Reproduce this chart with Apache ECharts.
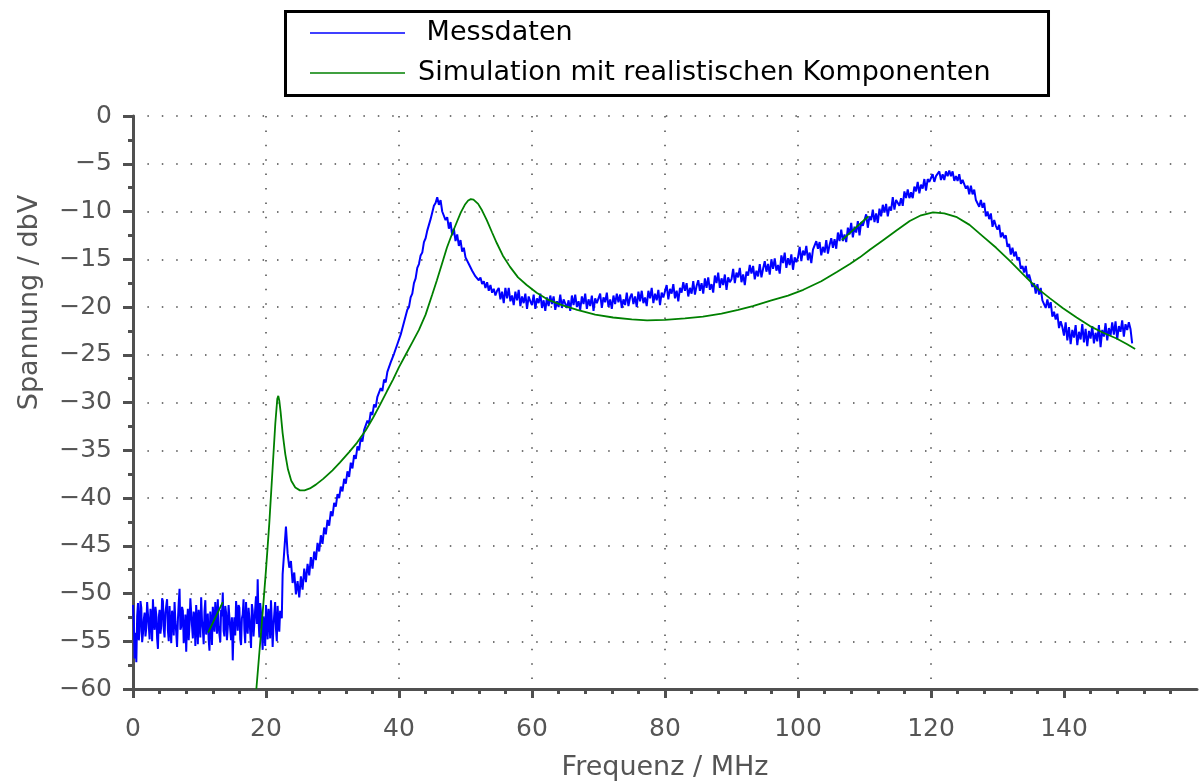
<!DOCTYPE html>
<html>
<head>
<meta charset="utf-8">
<title>Messdaten / Simulation</title>
<script src="https://cdn.jsdelivr.net/npm/echarts@6/dist/echarts.min.js"></script>
<style>
  html, body { margin: 0; padding: 0; background: #ffffff; }
  #chart { width: 1202px; height: 783px; }
</style>
</head>
<body>
<div id="chart"></div>
<script>
// Frequency axis ticks (MHz)
const frequenzTicks = [0, 20, 40, 60, 80, 100, 120, 140];

// Measured noise floor below the first resonance: every 0.125 MHz from 0 MHz (dBV)
const messLowStartMHz = 0;
const messLowStepMHz = 0.125;
const messWerteLow = [
  -51.2, -53.0, -56.8, -54.1, -57.2, -52.4, -51.0, -54.9, -53.9, -50.8, -51.5, -55.1, -54.2, -52.7, -52.0, -54.5, -53.6, -50.9, -51.1, -53.4,
  -54.8, -51.6, -52.3, -55.0, -50.6, -52.9, -53.8, -51.4, -52.2, -54.7, -55.8, -52.5, -51.7, -54.2, -53.4, -50.5, -50.8, -53.7, -54.6, -52.0,
  -52.1, -50.6, -53.9, -55.0, -51.3, -53.6, -55.2, -51.8, -52.6, -54.4, -50.9, -52.9, -54.1, -55.6, -52.8, -51.0, -49.5, -53.8, -53.5, -51.4,
  -51.8, -55.2, -54.4, -52.2, -56.1, -53.1, -51.6, -54.9, -53.2, -50.5, -50.7, -53.4, -54.7, -51.9, -52.4, -55.5, -51.2, -53.0, -55.3, -51.7,
  -52.9, -54.6, -50.4, -52.8, -53.7, -55.3, -51.9, -50.7, -54.3, -53.1, -52.1, -54.8, -56.0, -51.9, -53.0, -55.4, -51.4, -52.6, -54.0, -50.9,
  -52.3, -54.2, -50.6, -53.5, -53.3, -55.1, -51.7, -52.4, -49.9, -53.9, -54.5, -51.3, -52.0, -54.9, -53.6, -51.2, -51.0, -53.8, -54.9, -52.5,
  -57.0, -53.7, -52.5, -54.4, -50.8, -52.1, -53.9, -51.2, -51.5, -54.8, -55.4, -52.6, -52.2, -50.6, -53.8, -55.2, -50.9, -53.4, -54.2, -51.5,
  -52.6, -54.0, -55.7, -51.1, -51.8, -54.5, -53.1, -51.6, -50.3, -53.2, -48.5, -52.7, -54.6, -51.0, -52.0, -54.3, -55.9, -52.4, -53.3, -55.5,
  -51.2, -53.0, -54.8, -51.6, -52.4, -54.7, -50.7, -52.9, -55.6, -53.4, -52.1, -50.9, -53.7, -55.0, -51.3, -53.2, -54.0, -51.8, -52.2, -52.6
];

// Measured spectrum from 22.5 MHz on: every 0.25 MHz (dBV)
const messStartMHz = 22.5;
const messStepMHz = 0.25;
const messWerte = [
  -48.0, -45.5, -43.0, -45.8, -47.3, -46.6, -48.9, -47.8, -50.1, -48.7,
  -50.4, -48.2, -49.6, -47.4, -48.8, -46.9, -48.1, -46.2, -47.4, -45.6, -46.5, -44.7, -45.6, -43.9, -44.8, -43.1, -43.8, -42.3, -42.9, -41.4,
  -41.9, -40.5, -40.9, -39.6, -40.0, -38.8, -39.3, -38.0, -38.5, -37.2, -37.8, -36.3, -36.9, -35.5, -35.9, -34.6, -35.0, -33.7, -34.1, -32.9,
  -33.1, -31.9, -32.2, -31.0, -31.3, -30.2, -30.5, -29.4, -29.6, -28.5, -28.8, -27.6, -27.9, -26.8, -26.9, -25.8, -26.0, -24.9, -25.0, -23.9,
  -24.0, -22.9, -22.8, -21.6, -21.5, -20.3, -20.0, -19.0, -18.6, -17.5, -17.0, -15.9, -15.5, -14.6, -14.3, -13.2, -12.8, -12.0, -11.4, -10.8,
  -10.1, -9.4, -9.1, -8.5, -9.3, -8.8, -10.0, -9.8, -10.9, -10.6, -11.8, -11.1, -12.5, -11.8, -13.1, -12.4, -13.6, -13.0, -14.2, -13.8,
  -14.8, -14.6, -15.5, -15.3, -16.2, -16.0, -16.8, -16.6, -17.2, -16.9, -17.6, -17.3, -18.0, -17.4, -18.3, -17.7, -18.5, -18.1, -18.8, -18.3,
  -18.0, -19.2, -18.4, -19.6, -18.0, -19.1, -18.0, -19.4, -18.8, -19.8, -18.4, -19.3, -18.2, -19.9, -18.9, -19.6, -18.6, -20.2, -18.9, -19.4,
  -19.8, -18.7, -20.2, -19.1, -19.6, -18.6, -20.1, -19.3, -20.4, -19.0, -19.9, -18.8, -19.7, -18.9, -20.3, -19.4, -20.0, -18.7, -20.1, -19.2,
  -19.0, -20.1, -19.3, -20.4, -18.8, -19.8, -18.7, -20.0, -19.4, -20.3, -18.9, -19.7, -18.6, -20.2, -19.2, -19.9, -18.8, -20.4, -19.1, -19.6,
  -19.7, -18.6, -20.1, -19.0, -19.5, -18.5, -20.0, -19.2, -20.2, -18.8, -19.7, -18.6, -19.5, -18.7, -20.1, -19.2, -19.8, -18.5, -19.9, -19.0,
  -18.6, -19.7, -18.9, -20.0, -18.4, -19.4, -18.3, -19.6, -19.0, -19.9, -18.3, -19.1, -18.0, -19.6, -18.6, -19.3, -18.2, -19.8, -18.5, -19.0,
  -18.8, -17.7, -19.2, -18.1, -18.6, -17.6, -19.1, -18.3, -19.4, -18.0, -18.5, -17.4, -18.3, -17.5, -18.9, -18.0, -18.6, -17.3, -18.7, -17.8,
  -17.2, -18.3, -17.5, -18.6, -17.0, -18.0, -16.9, -18.2, -17.6, -18.5, -16.7, -17.5, -16.4, -18.0, -17.0, -17.7, -16.6, -18.2, -16.9, -17.4,
  -17.1, -16.0, -17.5, -16.4, -16.9, -15.9, -17.4, -16.6, -17.7, -16.3, -16.7, -15.6, -16.5, -15.7, -17.1, -16.2, -16.8, -15.5, -16.9, -16.0,
  -15.2, -16.3, -15.5, -16.6, -15.0, -16.0, -14.9, -16.2, -15.6, -16.5, -14.6, -15.4, -14.3, -15.9, -14.9, -15.6, -14.5, -16.1, -14.8, -15.3,
  -14.8, -13.7, -15.2, -14.1, -14.6, -13.6, -15.1, -14.3, -15.4, -14.0, -14.2, -13.1, -13.9, -13.2, -14.6, -13.7, -14.3, -13.0, -14.4, -13.5,
  -12.8, -13.8, -12.9, -13.9, -12.2, -13.1, -11.9, -13.1, -12.4, -13.2, -11.7, -12.4, -11.2, -12.7, -11.6, -12.2, -11.0, -12.5, -11.1, -11.5,
  -11.5, -10.3, -11.7, -10.5, -10.9, -9.8, -11.1, -10.2, -11.2, -9.7, -10.5, -9.3, -10.1, -9.2, -10.5, -9.5, -9.9, -8.5, -9.8, -8.8,
  -8.6, -9.4, -8.6, -9.4, -7.9, -8.6, -7.7, -8.6, -8.0, -8.6, -7.4, -7.9, -6.9, -8.1, -7.2, -7.6, -6.6, -7.8, -6.6, -6.9,
  -6.9, -6.1, -6.9, -6.3, -6.5, -5.8, -6.7, -6.1, -6.7, -5.8, -6.3, -5.7, -6.3, -5.8, -6.8, -6.3, -6.8, -6.1, -7.1, -6.7,
  -6.7, -7.6, -7.3, -8.2, -7.3, -8.2, -7.7, -8.8, -8.7, -9.5, -8.8, -9.6, -9.1, -10.5, -10.0, -10.8, -10.2, -11.6, -10.9, -11.5,
  -11.9, -11.4, -12.7, -12.2, -12.8, -12.5, -13.7, -13.4, -14.5, -13.8, -14.7, -14.2, -15.1, -14.8, -16.0, -15.7, -16.4, -15.7, -17.0, -16.6,
  -16.7, -17.9, -17.5, -18.6, -17.6, -18.7, -18.0, -19.3, -19.1, -20.1, -19.2, -20.1, -19.5, -21.0, -20.5, -21.3, -20.7, -22.2, -21.5, -22.1,
  -23.0, -21.6, -23.5, -22.1, -23.9, -22.4, -23.2, -21.9, -24.0, -22.6, -23.4, -21.8, -23.7, -22.3, -24.1, -22.5, -23.3, -22.0, -23.8, -22.7,
  -23.6, -21.9, -24.2, -22.4, -23.1, -21.7, -23.5, -22.2, -23.0, -21.6, -22.9, -21.5, -23.4, -22.0, -22.6, -21.4, -23.1, -21.8, -22.4, -21.6,
  -22.3, -23.8
];

// Simulated response [MHz, dBV]; null separates the short pieces
const simFrequenz = [
  11.3, 13.5, null,
  18.55, 19.0, 19.5, 20.0, 20.5, 21.0, 21.4, 21.7, 21.85, 22.0, 22.2, 22.5, 22.9, 23.3, 23.8, 24.4, 25.1, 25.8, 26.6, 27.5, 28.6,
  30.0, 31.1, 32.5, 33.7, 35.0, 36.1, 37.1, 38.2, 39.1, 40.0, 41.0, 42.0, 43.0, 44.0, 45.0, 45.7, 46.5, 47.2, 48.0, 48.7, 49.3,
  49.9, 50.4, 50.8, 51.2, 51.9, 52.5, 53.2, 54.0, 54.7, 55.6, 56.7, 57.9, 59.2, 60.7, 62.3, 64.5, 66.8, 69.5, 72.2, 75.0, 77.3,
  80.0, 83.0, 85.7, 88.5, 91.0, 93.2, 96.0, 98.5, 100.8, 103.5, 105.9, 107.8, 109.3, 110.8, 112.8, 114.8, 116.8, 118.5, 120.3,
  122.0, 123.9, 125.8, 127.8, 129.8, 131.9, 133.9, 135.9, 137.9, 139.8, 141.9, 143.9, 145.9, 147.9, 149.5, 150.7, null,
  106.6, 110.6
];
const simWerte = [
  -54.1, -50.9, null,
  -60.0, -56.2, -52.0, -47.5, -42.6, -36.8, -32.2, -29.6, -29.3, -29.8, -31.0, -33.2, -35.4, -37.0, -38.2, -38.9, -39.2, -39.2, -39.0, -38.6, -38.0,
  -37.1, -36.3, -35.2, -34.2, -32.9, -31.6, -30.3, -28.8, -27.6, -26.3, -25.0, -23.7, -22.4, -20.8, -18.7, -17.2, -15.4, -13.8, -12.3, -11.1, -10.1,
  -9.3, -8.85, -8.7, -8.75, -9.2, -9.9, -10.9, -12.2, -13.3, -14.6, -15.8, -16.9, -17.7, -18.5, -19.2, -19.8, -20.3, -20.8, -21.1, -21.3, -21.4,
  -21.35, -21.2, -21.0, -20.7, -20.3, -19.9, -19.3, -18.8, -18.2, -17.3, -16.3, -15.5, -14.8, -14.0, -13.0, -12.0, -11.0, -10.4, -10.1,
  -10.2, -10.6, -11.4, -12.6, -13.8, -15.2, -16.6, -18.0, -19.1, -20.1, -21.1, -22.0, -22.7, -23.3, -23.9, -24.4, null,
  -13.0, -10.5
];

const FONT = '"DejaVu Sans", "Liberation Sans", Arial, sans-serif';
const AXIS_COLOR = '#505050';
const TEXT_COLOR = '#555555';

const messDaten = messWerteLow
  .map((v, i) => [messLowStartMHz + i * messLowStepMHz, v])
  .concat(messWerte.map((v, i) => [messStartMHz + i * messStepMHz, v]));
const simDaten = simFrequenz.map((f, i) => (f === null ? [null, null] : [f, simWerte[i]]));

const minus = (v) => String(v).replace('-', '\u2212');

const gridDots = {
  show: true,
  lineStyle: { color: '#4a4a4a', width: 1.5, type: [1.5, 12.9] }
};

const chart = echarts.init(document.getElementById('chart'), null, { renderer: 'canvas' });

chart.setOption({
  animation: false,
  backgroundColor: '#ffffff',
  textStyle: { fontFamily: FONT },
  legend: {
    orient: 'vertical',
    left: 285.5,
    top: 11.5,
    padding: [8, 58, 9, 24.5],
    itemGap: 13,
    itemWidth: 95,
    itemHeight: 1.6,
    icon: 'rect',
    borderColor: '#000000',
    borderWidth: 3,
    backgroundColor: '#ffffff',
    data: ['Messdaten', 'Simulation mit realistischen Komponenten'],
    formatter: (name) => (name === 'Messdaten' ? ' ' + name : name),
    textStyle: {
      fontFamily: FONT,
      fontSize: 27,
      color: '#000000',
      padding: [0, 0, 0, 8]
    }
  },
  grid: { left: 133, right: 5, top: 116, bottom: 94, outerBoundsMode: 'none', containLabel: false },
  xAxis: {
    type: 'value',
    min: 0,
    max: 160,
    interval: 20,
    name: 'Frequenz / MHz',
    nameLocation: 'middle',
    nameGap: 65,
    nameTextStyle: { fontFamily: FONT, fontSize: 27, color: TEXT_COLOR },
    axisLine: { show: true, onZero: false, lineStyle: { color: AXIS_COLOR, width: 3 } },
    axisTick: { show: true, length: 9, customValues: frequenzTicks, lineStyle: { color: AXIS_COLOR, width: 3 } },
    minorTick: { show: true, splitNumber: 5, length: 5, lineStyle: { color: AXIS_COLOR, width: 3 } },
    axisLabel: {
      customValues: frequenzTicks,
      margin: 28,
      fontFamily: FONT,
      fontSize: 25,
      color: TEXT_COLOR,
      formatter: (v) => (v >= 160 ? '' : String(v))
    },
    splitLine: Object.assign({ showMinLine: false, showMaxLine: false }, gridDots),
    minorSplitLine: { show: false }
  },
  yAxis: {
    type: 'value',
    min: -60,
    max: 0,
    interval: 5,
    name: 'Spannung / dbV',
    nameLocation: 'middle',
    nameGap: 90,
    nameTextStyle: { fontFamily: FONT, fontSize: 27, color: TEXT_COLOR, padding: [0, 0, 0, 200] },
    axisLine: { show: true, onZero: false, lineStyle: { color: AXIS_COLOR, width: 3 } },
    axisTick: { show: true, length: 10, lineStyle: { color: AXIS_COLOR, width: 3 } },
    minorTick: { show: true, splitNumber: 2, length: 5, lineStyle: { color: AXIS_COLOR, width: 3 } },
    axisLabel: {
      margin: 21,
      fontFamily: FONT,
      fontSize: 25,
      color: TEXT_COLOR,
      formatter: (v) => minus(v)
    },
    splitLine: Object.assign({ showMinLine: false, showMaxLine: true }, gridDots),
    minorSplitLine: { show: false }
  },
  series: [
    {
      name: 'Messdaten',
      type: 'line',
      data: messDaten,
      symbol: 'none',
      showSymbol: false,
      lineStyle: { color: '#0000ff', width: 2 },
      itemStyle: { color: '#0000ff' },
      z: 3
    },
    {
      name: 'Simulation mit realistischen Komponenten',
      type: 'line',
      data: simDaten,
      symbol: 'none',
      showSymbol: false,
      connectNulls: false,
      lineStyle: { color: '#008000', width: 1.8 },
      itemStyle: { color: '#008000' },
      z: 4
    }
  ]
});
</script>
</body>
</html>
